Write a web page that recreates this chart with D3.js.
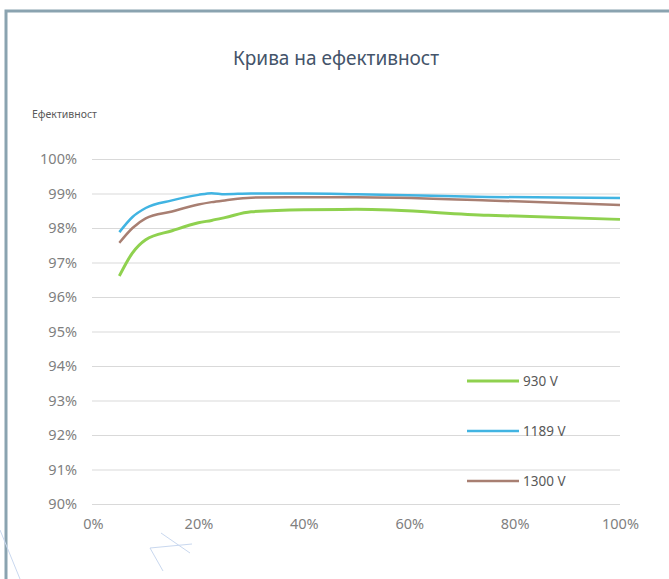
<!DOCTYPE html>
<html>
<head>
<meta charset="utf-8">
<script src="https://cdn.jsdelivr.net/npm/d3@7"></script>
<style>
  body { margin: 0; background: #fff; }
  svg { display: block; font-family: "Noto Sans", "Open Sans", sans-serif; }
</style>
</head>
<body>
<svg id="chart" width="669" height="579"></svg>
<script>
// load levels (%)
const loadPct = [5, 7.5, 10, 15, 20, 22.5, 25, 30, 40, 50, 75, 100];

// efficiency (%) per DC voltage
const eff930  = [96.61, 97.28, 97.66, 97.92, 98.15, 98.22, 98.3, 98.47, 98.53, 98.54, 98.37, 98.25];
const eff1189 = [97.88, 98.32, 98.58, 98.8, 98.96, 99.01, 98.98, 99.0, 99.0, 98.98, 98.9, 98.87];
const eff1300 = [97.57, 98.0, 98.28, 98.48, 98.68, 98.75, 98.8, 98.88, 98.89, 98.89, 98.8, 98.67];

const seriesNames = ["930 V", "1189 V", "1300 V"];
const seriesColors = ["#8fd14f", "#41b4e2", "#a87f72"];
const yTicks = [90, 91, 92, 93, 94, 95, 96, 97, 98, 99, 100];
const xTicks = [0, 20, 40, 60, 80, 100];

const svg = d3.select("#chart");

// frame
svg.append("path")
    .attr("d", "M6,579 V11 H669")
    .attr("fill", "none")
    .attr("stroke", "#8aa3b0")
    .attr("stroke-width", 3);

// faint decoration lines at bottom left
const deco = [[0, 530, 20, 579], [161, 533, 190, 553], [150, 548, 192, 544], [150, 548, 163, 571]];
svg.selectAll(".deco")
    .data(deco)
    .join("line")
    .attr("x1", d => d[0]).attr("y1", d => d[1])
    .attr("x2", d => d[2]).attr("y2", d => d[3])
    .attr("stroke", "#c9d8ef")
    .attr("stroke-width", 1);

svg.append("text")
    .attr("x", 336).attr("y", 65)
    .attr("text-anchor", "middle")
    .attr("font-size", 19)
    .attr("fill", "#44546a")
    .text("Крива на ефективност");

svg.append("text")
    .attr("x", 32).attr("y", 118)
    .attr("font-size", 10.5)
    .attr("fill", "#595959")
    .text("Ефективност");

const x = d3.scaleLinear().domain([0, 100]).range([93, 620]);
const y = d3.scaleLinear().domain([90, 100]).range([504, 159]);

// gridlines
svg.append("g")
    .attr("transform", "translate(92,0)")
    .call(d3.axisLeft(y).tickValues(yTicks).tickSize(-528).tickFormat(d => d + "%"))
    .call(g => g.select(".domain").remove())
    .call(g => g.selectAll("line").attr("stroke", "#d9d9d9").attr("stroke-width", 1))
    .call(g => g.selectAll("text")
        .attr("x", -15)
        .attr("font-size", 14.5)
        .attr("fill", "#7f7f7f")
        .attr("font-family", "Noto Sans, sans-serif"));

svg.append("g")
    .attr("transform", "translate(0,504)")
    .call(d3.axisBottom(x).tickValues(xTicks).tickSize(0).tickFormat(d => d + "%"))
    .call(g => g.select(".domain").remove())
    .call(g => g.selectAll("text")
        .attr("dy", "1.55em")
        .attr("font-size", 14.5)
        .attr("fill", "#7f7f7f")
        .attr("font-family", "Noto Sans, sans-serif"));

const allSeries = [eff930, eff1189, eff1300];

const line = d3.line()
    .x((d, i) => x(loadPct[i]))
    .y(d => y(d))
    .curve(d3.curveMonotoneX);

svg.selectAll(".series")
    .data(allSeries)
    .join("path")
    .attr("class", "series")
    .attr("d", line)
    .attr("fill", "none")
    .attr("stroke", (d, i) => seriesColors[i])
    .attr("stroke-width", (d, i) => i == 0 ? 3 : 2.5)
    .attr("stroke-linejoin", "round");

// legend
const legendY = [381, 431, 481];
const leg = svg.selectAll(".leg")
    .data(seriesNames)
    .join("g")
    .attr("transform", (d, i) => `translate(467,${legendY[i]})`);

leg.append("line")
    .attr("x1", 0).attr("x2", 52)
    .attr("stroke", (d, i) => seriesColors[i])
    .attr("stroke-width", (d, i) => i == 0 ? 3 : 2.5);

leg.append("text")
    .attr("x", 56).attr("dy", "0.35em")
    .attr("font-size", 13.5)
    .attr("fill", "#595959")
    .text(d => d);
</script>
</body>
</html>
